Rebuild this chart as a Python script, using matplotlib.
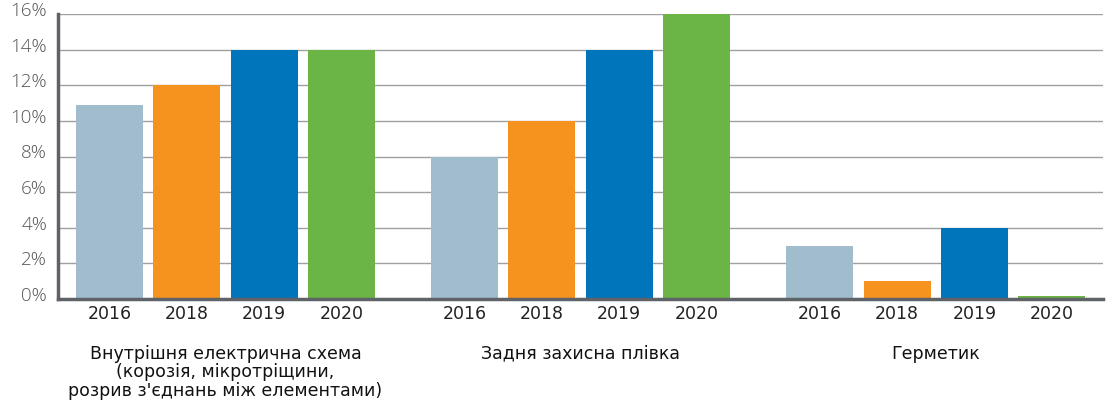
import matplotlib
matplotlib.use("Agg")
import matplotlib.pyplot as plt
import matplotlib.transforms as mtransforms
import numpy as np

groups = ["Внутрішня електрична схема\n(корозія, мікротріщини,\nрозрив з'єднань між елементами)",
          "Задня захисна плівка",
          "Герметик"]
years = ["2016", "2018", "2019", "2020"]
values = {
    "2016": [10.9, 8, 3],
    "2018": [12, 10, 1],
    "2019": [14, 14, 4],
    "2020": [14, 16, 0.15],
}
colors = ["#a0bccd", "#f6921e", "#0075bc", "#6ab545"]
yticks = [0, 2, 4, 6, 8, 10, 12, 14, 16]
ytick_labels = [f"{t}%" for t in yticks]

plt.rcParams['font.family'] = ['DejaVu Sans']
fig = plt.figure(figsize=(11.16, 4.10), dpi=100)
ax = fig.add_axes([58/1116, 1-300/410, (1103-58)/1116, (300-15)/410])

G = 4.593
width = 0.867
for i, y in enumerate(years):
    xs = [g*G + i for g in range(len(groups))]
    ax.bar(xs, values[y], width=width, color=colors[i], zorder=3)
    for x in xs:
        ax.text(x, -0.78, y, ha='center', va='center', fontsize=12.5, color='#222222')

for g, name in enumerate(groups):
    ax.text(g*G + 1.5, -2.5, name, ha='center', va='top', fontsize=12.5, color='#111111',
            linespacing=1.05)

ax.set_xlim(-0.666, 12.85)
ax.set_ylim(0, 16)
ax.set_yticks(yticks)
ax.set_yticklabels([])
ax.tick_params(axis='y', length=0)
ax.set_xticks([])

trans = mtransforms.blended_transform_factory(ax.transAxes, ax.transData) + \
    mtransforms.ScaledTranslation(-11/100, 4/100, fig.dpi_scale_trans)
for t, lab in zip(yticks, ytick_labels):
    ax.text(0, t, lab, transform=trans, ha='right', va='center', fontsize=13.5,
            color='#555555', family=['Open Sans', 'DejaVu Sans'], fontweight='light')

ax.yaxis.grid(True, color='#a0a0a0', linewidth=1.0)
ax.set_axisbelow(True)
for s in ['top', 'right']:
    ax.spines[s].set_visible(False)
for s in ['left', 'bottom']:
    ax.spines[s].set_color('#5f6368')
    ax.spines[s].set_linewidth(2.5)
    ax.spines[s].set_zorder(5)
ax.patch.set_facecolor('white')

fig.savefig("out.png", dpi=100)
